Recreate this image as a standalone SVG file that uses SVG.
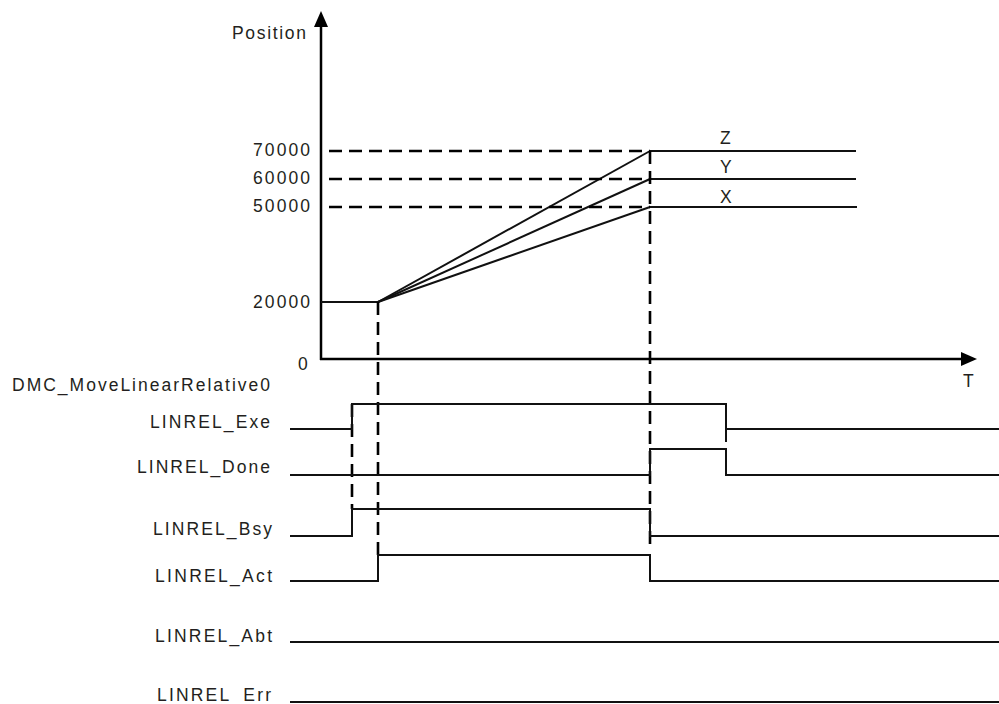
<svg xmlns="http://www.w3.org/2000/svg" width="999" height="704" viewBox="0 0 999 704">
<style>
  text { font-family: "Liberation Sans", Arial, sans-serif; font-size: 17.5px; fill: #231f20; }
  .sig { fill: none; stroke: #111; stroke-width: 2; }
  .dash { fill: none; stroke: #000; stroke-width: 2.6; stroke-dasharray: 13 7; }
  .axis { fill: none; stroke: #000; stroke-width: 2.5; }
</style>
<rect width="999" height="704" fill="#fff"/>
<g id="axes">
  <line class="axis" x1="321" y1="360" x2="321" y2="24"/>
  <polygon points="321,11 314,27 328,27" fill="#000"/>
  <line class="axis" x1="320" y1="359" x2="962" y2="359" stroke-width="3"/>
  <polygon points="977,359 961,352 961,366" fill="#000"/>
  <text x="232" y="39" textLength="74" lengthAdjust="spacing">Position</text>
  <text x="963" y="387">T</text>
  <text x="298" y="370">0</text>
  <text x="253" y="156" textLength="57" lengthAdjust="spacing">70000</text>
  <text x="253" y="184" textLength="57" lengthAdjust="spacing">60000</text>
  <text x="253" y="212" textLength="57" lengthAdjust="spacing">50000</text>
  <text x="253" y="308" textLength="57" lengthAdjust="spacing">20000</text>
</g>
<g id="position-curves">
  <line class="sig" x1="321" y1="302" x2="378" y2="302"/>
  <line class="sig" x1="378" y1="302" x2="650" y2="151"/>
  <line class="sig" x1="378" y1="302" x2="650" y2="179"/>
  <line class="sig" x1="378" y1="302" x2="650" y2="207"/>
  <line class="sig" x1="650" y1="151" x2="856" y2="151"/>
  <line class="sig" x1="650" y1="179" x2="856" y2="179"/>
  <line class="sig" x1="650" y1="207" x2="857" y2="207"/>
  <text x="720" y="144">Z</text>
  <text x="720" y="173">Y</text>
  <text x="720" y="203">X</text>
</g>
<g id="connectors">
  <line class="dash" x1="329" y1="151" x2="650" y2="151"/>
  <line class="dash" x1="329" y1="179" x2="650" y2="179"/>
  <line class="dash" x1="329" y1="207" x2="650" y2="207"/>
  <line class="dash" x1="650" y1="151" x2="650" y2="548"/>
  <line class="dash" x1="378" y1="302" x2="378" y2="555"/>
  <line class="dash" x1="352" y1="404" x2="352" y2="509"/>
  <line class="sig" x1="726" y1="429" x2="726" y2="442" stroke-width="2.6"/>
</g>
<g id="labels">
  <text x="12" y="391" textLength="258" lengthAdjust="spacing">DMC_MoveLinearRelative0</text>
</g>
<g id="sig-exe">
  <text x="150" y="428" textLength="120" lengthAdjust="spacing">LINREL_Exe</text>
  <polyline class="sig" points="290,429 352,429 352,404 726,404 726,429 999,429"/>
</g>
<g id="sig-done">
  <text x="137" y="473" textLength="133" lengthAdjust="spacing">LINREL_Done</text>
  <polyline class="sig" points="290,475 650,475 650,449 726,449 726,475 999,475"/>
</g>
<g id="sig-bsy">
  <text x="153" y="535" textLength="119" lengthAdjust="spacing">LINREL_Bsy</text>
  <polyline class="sig" points="290,536 352,536 352,509 650,509 650,536 999,536"/>
</g>
<g id="sig-act">
  <text x="155" y="582" textLength="117" lengthAdjust="spacing">LINREL_Act</text>
  <polyline class="sig" points="290,581 378,581 378,555 650,555 650,581 999,581"/>
</g>
<g id="sig-abt">
  <text x="155" y="642" textLength="117" lengthAdjust="spacing">LINREL_Abt</text>
  <polyline class="sig" points="290,642 999,642"/>
</g>
<g id="sig-err">
  <text x="157" y="701" textLength="114" lengthAdjust="spacing">LINREL_Err</text>
  <polyline class="sig" points="290,702 999,702"/>
</g>
</svg>
